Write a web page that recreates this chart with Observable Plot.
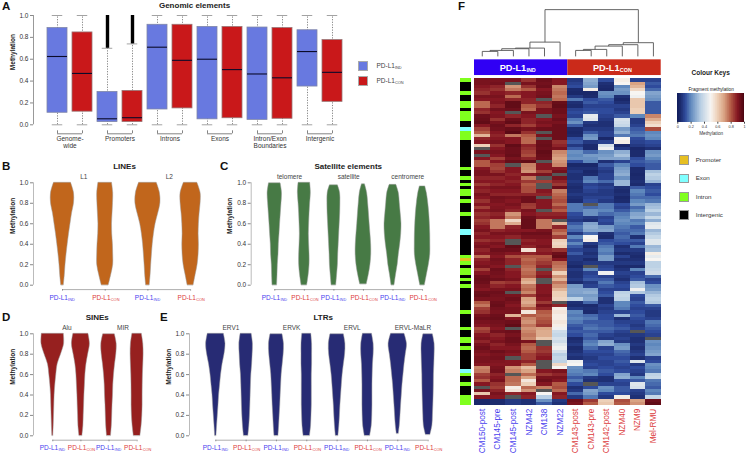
<!DOCTYPE html>
<html>
<head>
<meta charset="utf-8">
<script src="https://cdn.jsdelivr.net/npm/d3@7"></script>
<script src="https://cdn.jsdelivr.net/npm/@observablehq/plot@0.6"></script>
<style>
html,body{margin:0;padding:0;background:#fff}
#page{position:relative;width:746px;height:453px;overflow:hidden;font-family:"Liberation Sans",Arial,sans-serif;color:#333}
#page svg{position:absolute;overflow:visible}
.t{position:absolute;white-space:nowrap;line-height:1}
.t sub{font-size:.6em;vertical-align:-0.25em;line-height:0}
.sw{position:absolute;box-sizing:border-box}
</style>
</head>
<body>
<div id="page"></div>
<script>
// ---------- Panel A: genomic elements ----------
const elementGroups = ["Genome-\nwide","Promoters","Introns","Exons","Intron/Exon\nBoundaries","Intergenic"];
const boxQ1 = [.11,.12, .025,.025, .14,.15, .05,.06, .045,.055, .35,.21];
const boxMedian = [.625,.47, .055,.065, .71,.59, .60,.505, .465,.43, .67,.48];
const boxQ3 = [.885,.845, .30,.31, .915,.915, .895,.895, .89,.885, .865,.775];
const whiskerLow = [0,0, 0,0, 0,0, 0,0, 0,0, 0,0];
const whiskerHigh = [1,1, .70,.74, 1,1, 1,1, 1,1, 1,1];
const outlierTop = [null,null, 1,1, null,null, null,null, null,null, null,null];

// ---------- Violins: half-widths at the methylation levels below ----------
const levels = [0,.1,.2,.3,.4,.5,.6,.7,.8,.9,1];
const L1_IND = [1.3,2.3,3,4,5.2,6.5,8,9.5,11.5,11.5,8.5];
const L1_CON = [3.5,6,8,8,7.7,7,6.8,7.3,7.8,8,6.8];
const L2_IND = [1.8,2.7,3.3,4,4.8,6,7.7,10.3,12.5,12,8.8];
const L2_CON = [3,5,7,8,8.3,8,8.3,9,10,10,6.7];
const telomere_IND = [2.3,2.7,3,3.7,4,4.7,5.3,6,6.7,7.2,5.8];
const telomere_CON = [2.8,4.3,5.2,5.2,4.8,4.5,4.8,5.2,5.8,6.5,5.8];
const satellite_IND = [2.3,3.2,4,4.3,4.8,5.3,5.8,6.3,6.5,6.2,4];
const satellite_CON = [3.3,5.3,7,7.8,7.7,7,6.2,5.5,4.7,3.7,1.5];
const centromere_IND = [1.5,3,4.7,5.8,7.2,8.2,8.5,7.7,6.8,5.8,3.3];
const centromere_CON = [2.3,4.3,6.3,7.7,7.8,7.7,7.3,6.7,5.7,4.3,2.7];
const Alu_IND = [.5,.9,1.2,1.5,1.8,2.5,3.5,4.8,8.3,11.3,11];
const Alu_CON = [1.5,2.5,2.8,3.2,3.5,4,4.5,5.5,7.3,9,7.5];
const MIR_IND = [2,2.8,3.2,3.5,4,4.3,5,6,7.3,7.7,5.8];
const MIR_CON = [3.3,4.5,5.2,5.5,5.5,5.6,5.8,6.2,6.5,6.2,4.7];
const ERV1_IND = [.7,1.3,2,2.7,3.3,4.3,5.3,6.7,8.7,9.7,8];
const ERV1_CON = [2.2,3.2,3.8,4.2,4.5,4.8,5.2,6,6.5,6.8,5.5];
const ERVK_IND = [2,2.7,3.2,3.8,4.2,4.7,5.2,6.2,7.2,7.5,6];
const ERVK_CON = [3.2,4.3,4.7,5,5,5,5,5.3,5.3,5.3,4.5];
const ERVL_IND = [1.3,2.2,2.8,3.3,4,4.7,5.5,6.7,8,8.3,6.7];
const ERVL_CON = [2.7,4.3,4.8,5,5,5,5.2,5.5,6.2,6.2,4.5];
const MaLR_IND = [1,2,2.7,3.3,4,4.7,5.7,6.7,8,9.2,6.7];
const MaLR_CON = [2.3,4.3,4.8,5.2,5.5,5.7,5.8,6.2,6.5,6.5,4.7];

// ---------- Panel F: fragment methylation (%) per sample, rows top to bottom, null = missing ----------
const samples = ["CM150-post","CM145-pre","CM145-post","NZM42","CM138","NZM22","CM143-post","CM143-pre","CM142-post","NZM40","NZM9","Mel-RMU"];
const CM150_post = [92,92,90,88,86,92,90,78,78,88, 86,94,95,96,90,84,80,66,88,90, 60,null,92,null,90,80,80,90,92,92, 88,90,85,90,88,92,90,86,90,84, 90,86,88,84,86,90,92,88,90,86,
 90,92,88,90,78,88,90,92,84,90, 94,95,94,92,90,94,95,92,80,76, 84,86,92,94,92,90,82,85,90,92, 88,92,94,92,90,92,92,90,74,76, 84,86,80,90,null,92,62,90,4,4];
const CM145_pre = [92,93,88,86,90,92,90,91,88,93, 90,91,86,92,94,93,90,88,90,92, 86,90,92,90,84,90,84,83,86,92, 88,90,88,92,90,88,93,92,90,91, 92,88,90,76,76,76,88,92,90,88,
 92,90,94,92,90,93,92,90,94,93, 92,94,84,88,92,94,93,92,94,95, 93,92,94,95,93,92,90,93,88,90, 92,88,90,94,92,93,91,90,92,93, 88,90,92,86,84,88,92,90,5,5];
const CM145_post = [92,null,72,76,88,78,88,96,96,94, null,88,94,96,88,95,97,76,90,90, 96,94,94,95,92,95,null,90,90,88, 90,88,90,92,90,88,92,90,92,90, 88,72,76,58,68,88,90,92,88,null,
 null,96,94,90,82,88,88,null,88,90, 90,92,86,90,92,null,92,94,92,90, 92,92,66,90,94,96,null,94,92,94, 94,92,90,92,90,null,90,90,72,75, null,78,78,76,52,55,88,null,8,8];
const NZM42 = [86,92,86,80,90,90,88,88,80,78, 92,90,88,88,84,92,86,80,78,78, 88,86,84,82,88,96,75,74,72,90, 76,85,80,82,82,88,94,94,85,84, 92,90,94,95,95,95,90,94,92,88,
 90,88,55,88,80,78,80,78,76,78, 80,70,66,76,78,74,85,70,68,72, 80,54,80,74,72,76,72,74,76,74, 92,80,78,80,84,84,88,80,64,70, 78,70,54,60,78,72,90,88,6,6];
const CM138 = [94,93,94,90,92,93,null,88,86,92, 92,null,90,92,90,94,null,92,null,94, 95,94,96,95,94,null,90,90,84,92, null,84,null,null,90,88,null,90,90,90, null,88,90,76,76,76,92,94,92,90,
 90,92,88,90,80,82,85,88,null,88, 90,null,null,90,90,90,92,90,85,92, 88,80,78,80,82,85,70,68,68,62, null,null,86,85,88,90,null,null,null,90, 85,92,94,90,75,null,50,35,22,14];
const NZM22 = [90,90,74,76,78,76,78,95,96,94, 94,92,94,92,94,94,94,94,94,86, 88,92,74,72,70,72,74,90,93,null, 92,88,85,94,75,78,80,82,78,84, 80,88,90,null,66,88,80,76,84,60,
 58,60,86,94,96,90,78,76,74,60, 72,66,76,72,66,60,60,58,null,88, 52,54,52,52,54,52,48,40,38,42, 40,45,48,42,35,38,36,58,50,92, 88,92,90,80,82,78,90,88,8,6];
const CM143_post = [8,10,12,5,4,8,18,6,5,10, 12,10,18,22,14,5,4,5,12,14, 8,14,22,20,22,12,4,6,8,6, 6,8,6,5,6,8,6,5,18,18, 18,12,10,8,14,18,16,8,20,14,
 20,14,10,14,8,8,6,4,8,6, 6,8,5,24,26,26,24,36,6,5, 8,20,18,20,18,14,12,14,12,5, 6,8,5,6,8,6,48,50,22,20, 18,14,18,12,6,8,16,8,94,92];
const CM143_pre = [28,26,24,52,4,5,12,14,10,12, 14,46,44,8,6,8,14,22,24,8, 5,5,16,24,22,20,4,6,4,5, 18,20,10,12,10,8,10,12,null,16, 22,22,8,6,26,28,26,16,50,52,
 8,5,8,6,8,5,8,null,20,10, 12,14,8,10,26,28,24,26,16,5, 6,5,16,18,14,16,18,14,16,14, 18,20,16,12,10,8,10,12,10,18, 20,8,6,null,12,26,24,18,85,80];
const CM142_post = [12,6,5,4,22,20,14,12,10,12, 12,10,8,6,6,8,10,10,4,10, 42,48,22,24,26,6,14,10,8,10, 10,16,8,10,8,8,10,8,18,18, 20,16,10,12,10,24,26,6,5,12,
 14,18,20,18,24,24,8,10,12,48, 10,14,18,14,10,12,14,6,6,10, 8,10,12,12,14,14,16,14,10,8, 26,28,10,12,10,12,10,10,12,14, 12,6,6,10,22,20,12,8,60,62];
const NZM40 = [52,50,20,24,22,6,4,6,10,8, 10,14,42,40,38,24,28,18,50,52, 4,8,28,32,26,10,20,24,26,28, 22,30,30,6,5,6,4,5,12,10, 14,18,20,22,20,18,16,14,16,14,
 12,6,8,5,10,6,8,5,7,10, 8,6,10,12,10,36,38,36,20,20, 18,10,30,6,10,12,14,10,8,10, 8,22,24,16,14,12,14,12,10,12, 26,28,12,10,14,14,12,52,82,80];
const NZM9 = [10,70,66,58,50,48,62,62,62,60, 60,20,8,8,10,14,16,18,12,10, 8,4,5,5,12,14,12,5,5,4, 5,6,5,14,20,18,16,20,24,16, 20,26,28,18,20,14,16,18,6,14,
 10,18,8,6,5,6,8,5,20,10, 12,14,32,34,48,34,12,10,14,12, 10,12,14,12,10,8,10,null,8,6, 6,8,6,8,10,6,44,8,12,10, 8,20,14,44,42,10,8,6,70,72];
const Mel_RMU = [10,14,12,16,26,24,22,14,14,14, 14,74,68,60,56,82,20,22,20,12, 10,6,22,24,20,16,14,14,32,36, 34,30,10,12,14,12,16,18,30,32, 36,30,38,28,44,46,30,34,38,44,
 44,30,32,52,46,50,36,36,38,40, 16,10,12,22,24,30,34,36,34,14, 10,8,8,10,18,16,14,12,10,null, 22,20,22,24,26,10,12,22,20,18, 36,38,18,16,14,20,18,38,94,96];
const sampleValues = [CM150_post,CM145_pre,CM145_post,NZM42,CM138,NZM22,CM143_post,CM143_pre,CM142_post,NZM40,NZM9,Mel_RMU];
// row annotation as runs: [element, number of rows]
const annotationRuns = [["Intron",1],["Intergenic",3],["Intron",1],["Intergenic",2],["Intron",2],["Intergenic",1],["Intron",3],["Intergenic",2],["Exon",1],["Intron",3],["Intergenic",8],["Intron",1],["Intergenic",2],["Intron",1],["Intergenic",1],["Intron",1],["Intergenic",1],["Intron",2],["Intergenic",1],["Intron",1],["Intergenic",3],["Intron",1],["Intergenic",4],["Exon",2],["Intergenic",6],["Intron",1],["Promoter",1],["Intron",1],["Intergenic",1],["Intron",2],["Intergenic",1],["Intron",1],["Intergenic",1],["Intron",1],["Intergenic",7],["Intron",1],["Intergenic",4],["Intron",1],["Intergenic",2],["Intron",2],["Intergenic",1],["Intron",1],["Intergenic",6],["Exon",1],["Intron",1],["Intergenic",2],["Intron",1],["Intergenic",3],["Intron",3]];
const elementColours = {Promoter:"#e6bf22",Exon:"#80ffff",Intron:"#80ff1e",Intergenic:"#000000"};
// dendrogram merges: children are leaf numbers or ["n",mergeIndex]; heights in rows above the leaf base
const merges = [
 {a:0,b:1,h:1.53},{a:["n",0],b:2,h:1.83},{a:["n",1],b:3,h:2.35},{a:["n",2],b:4,h:2.54},{a:["n",3],b:5,h:4.37},
 {a:6,b:7,h:1.83},{a:["n",5],b:8,h:2.14},{a:["n",6],b:9,h:3.15},{a:["n",7],b:10,h:3.58},{a:["n",8],b:11,h:4.19},
 {a:["n",4],b:["n",9],h:14.3}];

const page = document.getElementById("page");
const BLUE = "#4a40ee", RED = "#dc3c3c", TICK = "#333";
const colorOpts = {type:"linear",
  domain:[0,.05,.12,.2,.35,.5,.6,.7,.8,.9,1],
  range:["#101c5c","#1c2b6e","#2f4b9c","#5f88bd","#b9cfe4","#f7f5f2","#edd0b8","#d9a383","#b35a45","#851722","#4a0410"]};

function text(html,x,y,css=""){
  const d=document.createElement("div");d.className="t";d.innerHTML=html;
  d.style.cssText=`left:${x}px;top:${y}px;${css}`;page.appendChild(d);return d;
}
function place(box,frame,opts){
  const svg=Plot.plot({
    width:box.w,height:box.h,
    marginLeft:frame.x0-box.l,marginRight:box.l+box.w-frame.x1,
    marginTop:frame.y1-box.t,marginBottom:box.t+box.h-frame.y0,
    style:{background:"transparent",fontFamily:'"Liberation Sans",Arial,sans-serif',overflow:"visible"},
    ...opts});
  svg.style.left=box.l+"px";svg.style.top=box.t+"px";
  page.appendChild(svg);
}
const yAxis=()=>Plot.axisY({ticks:[0,.2,.4,.6,.8,1],tickFormat:".1f",tickSize:3,tickPadding:2,fontSize:6.5,label:null,stroke:"#888",fill:TICK});
const yTitle=dx=>Plot.text(["Methylation"],{frameAnchor:"left",rotate:-90,dx,fontSize:6.5,fontWeight:"bold",fill:"#222"});

// ---------- Panel A ----------
(function(){
  const c0=57,step=25,axis=33,yTop=15,yBot=124.3,X=p=>(p-c0)/step,Y=p=>(yBot-p)/(yBot-yTop);
  const idx=d3.range(12),w=.4,cap=.21;
  const groupIdx=d3.range(elementGroups.length);
  place({l:0,t:0,w:350,h:150},{x0:axis,x1:350,y0:yBot,y1:yTop},{
    x:{domain:[X(axis),X(350)],axis:null},
    y:{domain:[0,1],axis:null},
    marks:[
      Plot.ruleX([X(axis)],{y1:0,y2:1,stroke:"#999",strokeWidth:1}),
      yAxis(),
      yTitle(-21),
      Plot.ruleX(idx,{x:i=>i,y1:i=>whiskerLow[i],y2:i=>whiskerHigh[i],stroke:"#666",strokeWidth:.8,strokeDasharray:"1.2,1.4"}),
      Plot.ruleY(idx,{y:i=>whiskerHigh[i],x1:i=>i-cap,x2:i=>i+cap,stroke:"#999",strokeWidth:.9}),
      Plot.ruleY(idx,{y:i=>whiskerLow[i],x1:i=>i-cap,x2:i=>i+cap,stroke:"#999",strokeWidth:.9}),
      Plot.ruleX(idx.filter(i=>outlierTop[i]!=null),{x:i=>i,y1:i=>whiskerHigh[i],y2:i=>outlierTop[i],stroke:"#000",strokeWidth:3.4}),
      Plot.rect(idx.filter(i=>i%2==0),{x1:i=>i-w,x2:i=>i+w,y1:i=>boxQ1[i],y2:i=>boxQ3[i],fill:"#6879e0",stroke:"#7f86a8",strokeWidth:.8}),
      Plot.rect(idx.filter(i=>i%2==1),{x1:i=>i-w,x2:i=>i+w,y1:i=>boxQ1[i],y2:i=>boxQ3[i],fill:"#c9181a",stroke:"#9a7676",strokeWidth:.8}),
      Plot.ruleY(idx,{y:i=>boxMedian[i],x1:i=>i-w,x2:i=>i+w,stroke:"#0b0b2a",strokeWidth:1.1}),
      // group brackets and names
      Plot.ruleY(groupIdx,{y:Y(133.3),x1:g=>2*g,x2:g=>2*g+1,stroke:"#666",strokeWidth:.8}),
      Plot.ruleX(idx,{x:i=>i,y1:Y(133.3),y2:Y(130.3),stroke:"#666",strokeWidth:.8}),
      Plot.text(groupIdx,{x:g=>2*g+.5,y:Y(134.6),text:g=>elementGroups[g],lineAnchor:"top",fontSize:6.5,lineHeight:1.18,fill:"#333"}),
      Plot.text(["Genomic elements"],{x:X(194),y:Y(4.5),fontSize:8,fontWeight:"bold",fill:"#222"})
    ]});
  text("A",2,1,"font-size:11.5px;font-weight:bold;color:#111");
  [["IND","#6879e0",61.3],["CON","#c9181a",76]].forEach(([s,c,y])=>{
    const d=document.createElement("div");d.className="sw";
    d.style.cssText=`left:358.3px;top:${y}px;width:9.6px;height:9.5px;background:${c};border:.5px solid #aaa`;page.appendChild(d);
    text(`PD-L1<sub>${s}</sub>`,376.5,y+1.8,"font-size:6.5px;color:#444");
  });
})();

// ---------- Panels B–E ----------
function violinPanel(c){
  const span=c.y0-c.y1,Y=p=>(c.y0-p)/span,X=p=>p-c.c0;
  const n=c.violins.length,last=(n-1)*c.step;
  const rows=c.violins.flatMap((v,i)=>v.map((w,k)=>({i,w,
    y:k==0?(c.bottoms?c.bottoms[i]:0):k==10?(c.tops?c.tops[i]:1):levels[k]})));
  const idx=d3.range(n),kind=i=>i%2?"CON":"IND";
  const labels=k=>idx.filter(i=>kind(i)==k);
  place(c.box,{x0:c.axis,x1:c.box.l+c.box.w,y0:c.y0,y1:c.y1},{
    x:{domain:[X(c.axis),X(c.box.l+c.box.w)],axis:null},
    y:{domain:[0,1],axis:null},
    marks:[
      Plot.ruleX([X(c.axis)],{y1:0,y2:1,stroke:"#bbb",strokeWidth:1}),
      yAxis(),
      yTitle(-21),
      Plot.areaX(rows,{y:"y",x1:d=>d.i*c.step-d.w,x2:d=>d.i*c.step+d.w,z:"i",fill:c.color,stroke:"#9a9a9a",strokeWidth:.5,curve:"catmull-rom"}),
      Plot.ruleY([Y(c.y0+4.4)],{x1:0,x2:last,stroke:"#999",strokeWidth:.8}),
      Plot.ruleX(idx,{x:i=>i*c.step,y1:Y(c.y0+4.4),y2:Y(c.y0+6),stroke:"#777",strokeWidth:.7}),
      ...[["IND",BLUE],["CON",RED]].flatMap(([k,col])=>[
        Plot.text(labels(k),{x:i=>i*c.step,y:Y(c.y0+12.6),dx:5.4,text:()=>"PD-L1",textAnchor:"end",fontSize:6.5,fill:col}),
        Plot.text(labels(k),{x:i=>i*c.step,y:Y(c.y0+12.6),dx:5.6,dy:1.8,text:()=>k,textAnchor:"start",fontSize:3.9,fill:col})
      ]),
      Plot.text(c.groups,{x:(g,j)=>(j*2+.5)*c.groupStep,y:Y(c.y1-5.6),text:d=>d,fontSize:6.5,fill:"#444"}),
      Plot.text([c.title],{x:X(c.titleX),y:Y(c.y1-16.3),fontSize:8,fontWeight:"bold",fill:"#222"})
    ]});
  text(c.letter,c.letterX,c.y1-21.5,"font-size:11.5px;font-weight:bold;color:#111");
}
violinPanel({letter:"B",letterX:2,title:"LINEs",titleX:124,box:{l:0,t:150,w:218,h:155},axis:33,y0:284.7,y1:182.3,c0:62,step:42.7,groupStep:42.7,
  color:"#c1661c",groups:["L1","L2"],violins:[L1_IND,L1_CON,L2_IND,L2_CON]});
violinPanel({letter:"C",letterX:220,title:"Satellite elements",titleX:347.7,box:{l:218,t:150,w:222,h:155},axis:250.7,y0:284.7,y1:182.3,c0:274.3,step:29.55,groupStep:29.55,
  color:"#477a45",groups:["telomere","satellite","centromere"],violins:[telomere_IND,telomere_CON,satellite_IND,satellite_CON,centromere_IND,centromere_CON],
  tops:[.995,1,.975,.985,.98,.965],bottoms:[0,0,0,.01,0,0]});
violinPanel({letter:"D",letterX:2,title:"SINEs",titleX:96.7,box:{l:0,t:305,w:158,h:148},axis:33,y0:435.3,y1:333.3,c0:52.3,step:28.1,groupStep:28.1,
  color:"#96201f",groups:["Alu","MIR"],violins:[Alu_IND,Alu_CON,MIR_IND,MIR_CON],tops:[1,1,.995,1]});
violinPanel({letter:"E",letterX:160,title:"LTRs",titleX:322.7,box:{l:158,t:305,w:285,h:148},axis:189,y0:435.3,y1:333.3,c0:215.3,step:30.33,groupStep:30.33,
  color:"#272b74",groups:["ERV1","ERVK","ERVL","ERVL-MaLR"],violins:[ERV1_IND,ERV1_CON,ERVK_IND,ERVK_CON,ERVL_IND,ERVL_CON,MaLR_IND,MaLR_CON],
  tops:[1,1,.995,1,.995,1,1,.995],bottoms:[0,0,0,0,0,0,.02,.01]});

// ---------- Panel F ----------
(function(){
  const cells=sampleValues.flatMap((col,s)=>col.map((v,r)=>({s,r,v})));
  const present=cells.filter(d=>d.v!=null),missing=cells.filter(d=>d.v==null);
  let row=0;
  const ann=annotationRuns.map(([e,n])=>{const o={e,r0:row,r1:row+n};row+=n;return o;});
  // dendrogram segments
  const nodes=[],segs=[];
  const get=a=>Array.isArray(a)?nodes[a[1]]:{x:a+.5,h:0};
  merges.forEach(m=>{
    const A=get(m.a),B=get(m.b);
    segs.push({x1:A.x,x2:B.x,h1:m.h,h2:m.h},{x1:A.x,x2:A.x,h1:A.h,h2:m.h},{x1:B.x,x2:B.x,h1:B.h,h2:m.h});
    nodes.push({x:(A.x+B.x)/2,h:m.h});
  });
  const base=6.85;
  const rectOpts={x1:d=>d.s,x2:d=>d.s+1,y1:d=>d.r,y2:d=>d.r+1,shapeRendering:"crispEdges"};
  const idx=d3.range(12);
  const head=(t,x)=>[
    Plot.text([t],{x,y:-3.4,dx:5,text:()=>"PD-L1",textAnchor:"end",fontSize:9.2,fontWeight:"bold",fill:"#fff"}),
    Plot.text([t],{x,y:-3.4,dx:5.3,dy:2.4,text:d=>d,textAnchor:"start",fontSize:5.4,fontWeight:"bold",fill:"#fff"})];
  place({l:455,t:0,w:210,h:453},{x0:474,x1:660.7,y0:405.3,y1:78.3},{
    x:{domain:[0,12],axis:null},
    y:{domain:[100,0],axis:null},
    color:colorOpts,
    marks:[
      Plot.rect(present,{...rectOpts,fill:d=>d.v/100}),
      Plot.rect(missing,{...rectOpts,fill:"#565656"}),
      ...Object.keys(elementColours).map(e=>Plot.rect(ann.filter(a=>a.e==e),{x1:-.9,x2:-.19,y1:"r0",y2:"r1",fill:elementColours[e],shapeRendering:"crispEdges"})),
      Plot.rect([0],{x1:0,x2:6,y1:-5.8,y2:-1,fill:"#3000f4"}),
      Plot.rect([0],{x1:6,x2:12,y1:-5.8,y2:-1,fill:"#cb2a1a"}),
      ...head("IND",3),...head("CON",9),
      Plot.link(segs,{x1:"x1",x2:"x2",y1:d=>-(base+d.h1),y2:d=>-(base+d.h2),stroke:"#555",strokeWidth:.9}),
      Plot.text(idx.slice(0,6),{x:i=>i+.5,y:100.9,text:i=>samples[i],rotate:-90,textAnchor:"end",fontSize:8.2,fill:BLUE}),
      Plot.text(idx.slice(6),{x:i=>i+.5,y:100.9,text:i=>samples[i],rotate:-90,textAnchor:"end",fontSize:8.2,fill:RED})
    ]});
  text("F",458,1,"font-size:11.5px;font-weight:bold;color:#111");

  // colour key
  const ramp=d3.range(100);
  place({l:670,t:85,w:76,h:55},{x0:677.3,x1:744,y0:121.7,y1:93.3},{
    x:{domain:[0,1],axis:null},
    y:{domain:[0,1],axis:null},
    color:colorOpts,
    marks:[
      Plot.rect(ramp,{x1:i=>i/100,x2:i=>(i+1)/100,y1:0,y2:1,fill:i=>(i+.5)/100,shapeRendering:"crispEdges"}),
      Plot.axisX({ticks:[0,.2,.4,.6,.8,1],tickFormat:d=>String(d),tickSize:2,tickPadding:1.5,fontSize:3.8,label:null,stroke:"#444",fill:"#333"}),
      Plot.text(["Fragment methylation"],{x:.5,y:1.16,fontSize:4.7,fill:"#222"}),
      Plot.text(["Methylation"],{x:.5,y:-.41,fontSize:4.7,fill:"#333"})
    ]});
  text("Colour Keys",710.7,70,"font-size:6.5px;font-weight:bold;transform:translateX(-50%);color:#222");
  [["Promoter",155],["Exon",173.5],["Intron",192],["Intergenic",210]].forEach(([e,y])=>{
    const d=document.createElement("div");d.className="sw";
    d.style.cssText=`left:679.3px;top:${y}px;width:9.6px;height:9.6px;background:${elementColours[e]};border:.6px solid #999`;page.appendChild(d);
    text(e,695.7,y+1.8,"font-size:6.2px;color:#333");
  });
})();
</script>
</body>
</html>
